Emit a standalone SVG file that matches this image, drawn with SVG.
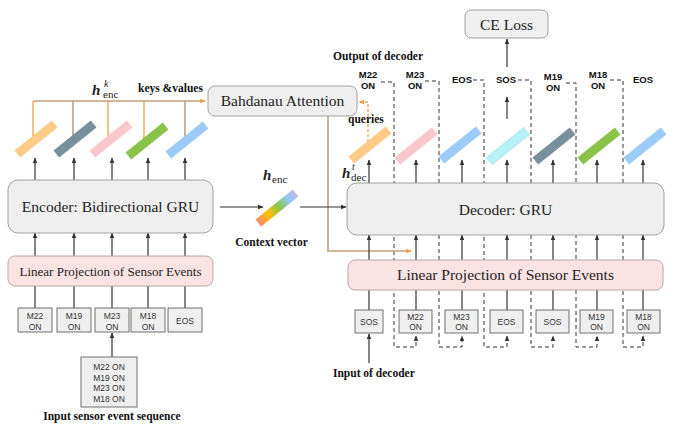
<svg xmlns="http://www.w3.org/2000/svg" width="676" height="425" viewBox="0 0 676 425">
<defs>
<style>
.gbox{fill:#efefef;stroke:#a0a0a0;stroke-width:1}
.pbox{fill:#fce3e3;stroke:#b8a8a8;stroke-width:1}
.tbox{fill:#efefef;stroke:#707070;stroke-width:1}
.serif{font-family:"Liberation Serif","Times New Roman",serif;fill:#222}
.big{font-size:15.5px;text-anchor:middle}
.lbl{font-family:"Liberation Serif","Times New Roman",serif;font-weight:bold;font-size:11.5px;fill:#111}
.tok{font-family:"Liberation Sans",Arial,sans-serif;font-size:8.5px;fill:#333;text-anchor:middle}
.otok{font-family:"Liberation Sans",Arial,sans-serif;font-size:9.5px;font-weight:bold;fill:#111;text-anchor:middle}
.arr{stroke:#333;stroke-width:1.2;fill:none;marker-end:url(#ah)}
.ln{stroke:#333;stroke-width:1.2;fill:none}
.dash{stroke:#333;stroke-width:1;fill:none;stroke-dasharray:4,3}
.brn{stroke:#bfa07c;stroke-width:1.6;fill:none}
.org{stroke:#f0a855;stroke-width:1.4;fill:none}
</style>
<marker id="ah" viewBox="0 0 10 10" refX="9" refY="5" markerUnits="userSpaceOnUse" markerWidth="6" markerHeight="6" orient="auto">
<path d="M0,1 L10,5 L0,9 z" fill="#333"/>
</marker>
<marker id="aho" viewBox="0 0 10 10" refX="9" refY="5" markerUnits="userSpaceOnUse" markerWidth="6" markerHeight="6" orient="auto">
<path d="M0,1 L10,5 L0,9 z" fill="#f0a040"/>
</marker>
<rect id="bar" x="-24" y="-4.5" width="48" height="9"/>
<linearGradient id="rain" x1="0" y1="0" x2="1" y2="0">
<stop offset="0" stop-color="#f48a6a"/>
<stop offset="0.28" stop-color="#ffc107"/>
<stop offset="0.55" stop-color="#8bc34a"/>
<stop offset="0.8" stop-color="#90caf9"/>
<stop offset="1" stop-color="#c9b8e2"/>
</linearGradient>
</defs>
<rect width="676" height="425" fill="#ffffff"/>

<g id="connectors">
<!-- decoder feedback dashed loops (behind boxes) -->
<path class="dash" d="M381,82 H394 V347 H416 V336" marker-end="url(#ah)"/>
<path class="dash" d="M425,81 H439 V347 H462 V336" marker-end="url(#ah)"/>
<path class="dash" d="M473,80 H484 V347 H507 V336" marker-end="url(#ah)"/>
<path class="dash" d="M518,80 H531 V347 H553 V336" marker-end="url(#ah)"/>
<path class="dash" d="M566,83 H576 V347 H597 V336" marker-end="url(#ah)"/>
<path class="dash" d="M610,80 H623 V347 H643 V336" marker-end="url(#ah)"/>

<!-- encoder keys/values lines -->
<path class="brn" d="M33,101 H205" marker-end="url(#aho)"/>
<line class="org" x1="33" y1="101" x2="33" y2="140"/>
<line class="brn" x1="73" y1="101" x2="73" y2="140"/>
<line class="org" x1="108" y1="101" x2="108" y2="140"/>
<line class="org" x1="144" y1="101" x2="144" y2="142"/>
<line class="brn" x1="185" y1="101" x2="185" y2="141"/>

<!-- attention context to decoder -->
<path class="brn" d="M328,116 V251 H411" marker-end="url(#aho)"/>
<!-- queries -->
<path d="M368,142 V102 H359" fill="none" stroke="#e8a050" stroke-width="1.3" stroke-dasharray="3,2" marker-end="url(#aho)"/>

<!-- encoder input side -->
<line class="arr" x1="112" y1="357" x2="112" y2="333"/>
<line class="ln" x1="35" y1="286" x2="35" y2="308"/>
<line class="ln" x1="74" y1="286" x2="74" y2="308"/>
<line class="ln" x1="112" y1="286" x2="112" y2="308"/>
<line class="ln" x1="148" y1="286" x2="148" y2="308"/>
<line class="ln" x1="185" y1="286" x2="185" y2="308"/>
<line class="arr" x1="35" y1="256" x2="35" y2="233"/>
<line class="arr" x1="74" y1="256" x2="74" y2="233"/>
<line class="arr" x1="112" y1="256" x2="112" y2="233"/>
<line class="arr" x1="148" y1="256" x2="148" y2="233"/>
<line class="arr" x1="185" y1="256" x2="185" y2="233"/>
<line class="arr" x1="35" y1="180" x2="35" y2="158"/>
<line class="arr" x1="74" y1="180" x2="74" y2="158"/>
<line class="arr" x1="112" y1="180" x2="112" y2="158"/>
<line class="arr" x1="148" y1="180" x2="148" y2="158"/>
<line class="arr" x1="185" y1="180" x2="185" y2="158"/>

<!-- context vector arrows -->
<line class="arr" x1="220" y1="207" x2="263" y2="207"/>
<line class="arr" x1="300" y1="207" x2="346" y2="207"/>

<!-- decoder -->
<line class="arr" x1="369" y1="363" x2="369" y2="334"/>
<line class="ln" x1="369" y1="290" x2="369" y2="310"/>
<line class="ln" x1="416" y1="290" x2="416" y2="310"/>
<line class="ln" x1="462" y1="290" x2="462" y2="310"/>
<line class="ln" x1="507" y1="290" x2="507" y2="310"/>
<line class="ln" x1="553" y1="290" x2="553" y2="310"/>
<line class="ln" x1="597" y1="290" x2="597" y2="310"/>
<line class="ln" x1="643" y1="290" x2="643" y2="310"/>
<line class="arr" x1="369" y1="260" x2="369" y2="235"/>
<line class="arr" x1="416" y1="260" x2="416" y2="235"/>
<line class="arr" x1="462" y1="260" x2="462" y2="235"/>
<line class="arr" x1="507" y1="260" x2="507" y2="235"/>
<line class="arr" x1="553" y1="260" x2="553" y2="235"/>
<line class="arr" x1="597" y1="260" x2="597" y2="235"/>
<line class="arr" x1="643" y1="260" x2="643" y2="235"/>
<line class="arr" x1="369" y1="183" x2="369" y2="160"/>
<line class="arr" x1="416" y1="183" x2="416" y2="160"/>
<line class="arr" x1="462" y1="183" x2="462" y2="160"/>
<line class="arr" x1="507" y1="183" x2="507" y2="160"/>
<line class="arr" x1="553" y1="183" x2="553" y2="160"/>
<line class="arr" x1="597" y1="183" x2="597" y2="160"/>
<line class="arr" x1="643" y1="183" x2="643" y2="160"/>
<line class="arr" x1="507" y1="119" x2="507" y2="97"/>
<line class="arr" x1="507" y1="67" x2="507" y2="39"/>
</g>

<!-- encoder hidden states -->
<g id="enc-states">
<use href="#bar" transform="translate(36,139) rotate(-39)" fill="#ffcc88"/>
<use href="#bar" transform="translate(75,139) rotate(-39)" fill="#78909c"/>
<use href="#bar" transform="translate(111,139) rotate(-39)" fill="#f9c8cc"/>
<use href="#bar" transform="translate(147,141) rotate(-39)" fill="#8bc34a"/>
<use href="#bar" transform="translate(187,140) rotate(-39)" fill="#9ccbf7"/>
</g>

<g id="dec-states">
<use href="#bar" transform="translate(370,145) rotate(-39)" fill="#ffcc88"/>
<use href="#bar" transform="translate(416,146) rotate(-39)" fill="#f9c8cc"/>
<use href="#bar" transform="translate(460,145) rotate(-39)" fill="#9ccbf7"/>
<use href="#bar" transform="translate(508,146) rotate(-39)" fill="#b6f1f6" stroke="#8fd8e0" stroke-width="0.6"/>
<use href="#bar" transform="translate(554,146) rotate(-39)" fill="#78909c"/>
<use href="#bar" transform="translate(599,146) rotate(-39)" fill="#8bc34a"/>
<use href="#bar" transform="translate(645,146) rotate(-39)" fill="#9ccbf7"/>
</g>

<g id="context-vector">
<use href="#bar" transform="translate(277,208) rotate(-39)" fill="url(#rain)"/>
<text class="serif" x="263" y="180" font-size="15" font-weight="bold" font-style="italic">h</text>
<text class="serif" x="272" y="183" font-size="11">enc</text>
<text class="lbl" x="271.5" y="246" text-anchor="middle">Context vector</text>
</g>

<g id="encoder">
<rect class="gbox" x="8" y="180" width="205" height="53" rx="10"/>
<text class="serif big" x="110.5" y="212">Encoder: Bidirectional GRU</text>
</g>

<g id="enc-linear">
<rect class="pbox" x="8" y="256" width="205" height="30" rx="7"/>
<text class="serif" x="110.5" y="275.5" font-size="13" text-anchor="middle">Linear Projection of Sensor Events</text>
</g>

<g id="enc-tokens">
<rect class="tbox" x="18" y="308" width="34" height="24"/>
<text class="tok" x="35" y="318.5">M22</text><text class="tok" x="35" y="329.5">ON</text>
<rect class="tbox" x="57" y="308" width="34" height="24"/>
<text class="tok" x="74" y="318.5">M19</text><text class="tok" x="74" y="329.5">ON</text>
<rect class="tbox" x="95" y="308" width="34" height="24"/>
<text class="tok" x="112" y="318.5">M23</text><text class="tok" x="112" y="329.5">ON</text>
<rect class="tbox" x="131" y="308" width="34" height="24"/>
<text class="tok" x="148" y="318.5">M18</text><text class="tok" x="148" y="329.5">ON</text>
<rect class="tbox" x="168" y="308" width="34" height="24"/>
<text class="tok" x="185" y="323.5">EOS</text>
</g>

<g id="input-sequence">
<rect class="tbox" x="81" y="357" width="56" height="50"/>
<text class="tok" x="109" y="370" font-size="9">M22 ON</text>
<text class="tok" x="109" y="380.5" font-size="9">M19 ON</text>
<text class="tok" x="109" y="391" font-size="9">M23 ON</text>
<text class="tok" x="109" y="401.5" font-size="9">M18 ON</text>
<text class="lbl" x="112" y="420" text-anchor="middle">Input sensor event sequence</text>
</g>

<g id="enc-keys-label">
<text class="serif" x="92" y="95" font-size="15" font-weight="bold" font-style="italic">h</text>
<text class="serif" x="104" y="87" font-size="10" font-style="italic">k</text>
<text class="serif" x="103" y="98" font-size="11">enc</text>
<text class="lbl" x="138" y="92">keys &amp;values</text>
</g>

<g id="attention">
<rect class="gbox" x="208" y="86" width="149" height="30" rx="7"/>
<text class="serif big" x="282.5" y="106">Bahdanau Attention</text>
<text class="lbl" x="348" y="123">queries</text>
</g>

<g id="decoder">
<rect class="gbox" x="347" y="183" width="317" height="52" rx="10"/>
<text class="serif big" x="505.5" y="215">Decoder: GRU</text>
<text class="serif" x="342" y="178" font-size="15" font-weight="bold" font-style="italic">h</text>
<text class="serif" x="352" y="170" font-size="10" font-style="italic">t</text>
<text class="serif" x="351" y="181" font-size="11">dec</text>
</g>

<g id="dec-linear">
<rect class="pbox" x="348" y="260" width="315" height="30" rx="7"/>
<text class="serif big" x="505.5" y="280">Linear Projection of Sensor Events</text>
</g>

<g id="dec-tokens">
<rect class="tbox" x="355" y="310" width="28" height="23"/>
<text class="tok" x="369" y="324.5">SOS</text>
<rect class="tbox" x="399" y="310" width="33" height="23"/>
<text class="tok" x="415.5" y="320">M22</text><text class="tok" x="415.5" y="330">ON</text>
<rect class="tbox" x="445" y="310" width="33" height="23"/>
<text class="tok" x="461.5" y="320">M23</text><text class="tok" x="461.5" y="330">ON</text>
<rect class="tbox" x="490" y="310" width="33" height="23"/>
<text class="tok" x="506.5" y="324.5">EOS</text>
<rect class="tbox" x="536" y="310" width="33" height="23"/>
<text class="tok" x="552.5" y="324.5">SOS</text>
<rect class="tbox" x="580" y="310" width="33" height="23"/>
<text class="tok" x="596.5" y="320">M19</text><text class="tok" x="596.5" y="330">ON</text>
<rect class="tbox" x="627" y="310" width="33" height="23"/>
<text class="tok" x="643.5" y="320">M18</text><text class="tok" x="643.5" y="330">ON</text>
<text class="lbl" x="333" y="377">Input of decoder</text>
</g>

<g id="dec-outputs">
<text class="lbl" x="333" y="60">Output of decoder</text>
<text class="otok" x="368" y="78">M22</text><text class="otok" x="368" y="89">ON</text>
<text class="otok" x="415" y="78">M23</text><text class="otok" x="415" y="89">ON</text>
<text class="otok" x="462" y="83">EOS</text>
<text class="otok" x="506" y="83">SOS</text>
<text class="otok" x="553" y="80">M19</text><text class="otok" x="553" y="91">ON</text>
<text class="otok" x="598" y="78">M18</text><text class="otok" x="598" y="89">ON</text>
<text class="otok" x="643" y="83">EOS</text>
</g>

<g id="ce-loss">
<rect class="gbox" x="465" y="10" width="83" height="28" rx="6"/>
<text class="serif big" x="506.5" y="29.5">CE Loss</text>
</g>
</svg>
